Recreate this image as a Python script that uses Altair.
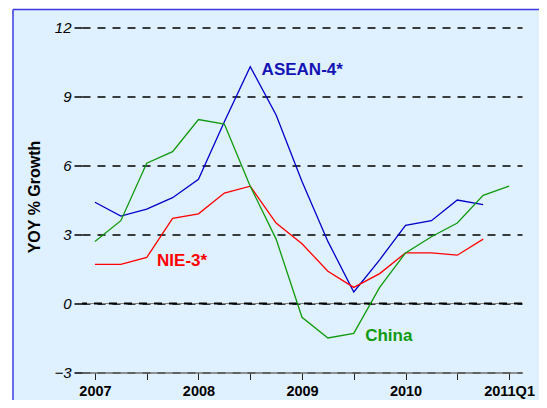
import altair as alt
import pandas as pd

# ---- data ----
quarters = ["2007Q1", "2007Q2", "2007Q3", "2007Q4",
            "2008Q1", "2008Q2", "2008Q3", "2008Q4",
            "2009Q1", "2009Q2", "2009Q3", "2009Q4",
            "2010Q1", "2010Q2", "2010Q3", "2010Q4", "2011Q1"]
asean4 = [4.4, 3.8, 4.1, 4.6, 5.4, 7.9, 10.3, 8.2, 5.3, 2.7, 0.5, 1.9, 3.4, 3.6, 4.5, 4.3]
nie3 = [1.7, 1.7, 2.0, 3.7, 3.9, 4.8, 5.1, 3.5, 2.6, 1.4, 0.7, 1.3, 2.2, 2.2, 2.1, 2.8]
china = [2.7, 3.6, 6.1, 6.6, 8.0, 7.8, 5.1, 2.8, -0.6, -1.5, -1.3, 0.7, 2.2, 2.9, 3.5, 4.7, 5.1]

series_names = ["ASEAN-4*", "NIE-3*", "China"]
series_colors = ["#0000CC", "#FF0000", "#109A10"]
label_colors = ["#1414B4", "#FF0000", "#109A10"]
label_x = [2008.61, 2007.60, 2009.61]   # label anchor (time units)
label_y = [10.15, 1.83, -1.43]          # label anchor (% growth)

y_ticks = [-3, 0, 3, 6, 9, 12]


def qnum(q):
    return int(q[:4]) + (int(q[-1]) - 1) / 4.0


rows = []
for name, vals in zip(series_names, [asean4, nie3, china]):
    for q, v in zip(quarters, vals):
        rows.append({"series": name, "t": qnum(q), "value": v})
df = pd.DataFrame(rows)

labels_df = pd.DataFrame({"series": series_names, "t": label_x, "value": label_y})

W, H = 440, 345
BG = "#DFF0FE"
BORDER = "#3A3ADF"
FONT = "Liberation Sans"

x_scale = alt.Scale(domain=[2006.875, 2011.125], nice=False, zero=False)
y_scale = alt.Scale(domain=[-3, 12], nice=False, zero=False)

tick_vals = [qnum(q) for q in quarters]

x_axis = alt.Axis(
    values=tick_vals,
    labelExpr="datum.value == 2011 ? '2011Q1' : (datum.value % 1 == 0 ? format(datum.value, 'd') : '')",
    grid=False, title=None,
    domainColor="#707070", domainWidth=1.5,
    tickColor="#222222", tickSize=7, tickWidth=1,
    labelFont=FONT, labelFontSize=14.5, labelFontWeight="bold", labelColor="black",
    labelBaseline="alphabetic", labelPadding=16, labelOverlap=False, labelFlush=False,
)
y_axis = alt.Axis(
    values=y_ticks, domain=False,
    grid=True, gridColor="black", gridDash=[8, 7], gridWidth=1.5,
    tickColor="black", tickSize=8, tickWidth=1.5,
    labelFont=FONT, labelFontSize=15, labelFontStyle="italic", labelColor="black",
    labelPadding=3,
    title="YOY % Growth", titleFont=FONT, titleFontSize=16, titleFontWeight="bold",
    titleColor="black", titleAngle=270, titleX=-47.5, titleY=169, titleAlign="center",
    titleBaseline="middle",
)

color = alt.Color("series:N", scale=alt.Scale(domain=series_names, range=series_colors), legend=None)

one = alt.Data(values=[{}])

white_left = alt.Chart(one).mark_rect(fill="white").encode(
    x=alt.value(-80), x2=alt.value(-69), y=alt.value(-40), y2=alt.value(520))
white_top = alt.Chart(one).mark_rect(fill="white").encode(
    x=alt.value(-80), x2=alt.value(620), y=alt.value(-40), y2=alt.value(-18))
border_left = alt.Chart(one).mark_rule(color=BORDER, strokeWidth=1.5).encode(
    x=alt.value(-69), y=alt.value(-18), y2=alt.value(520))
border_top = alt.Chart(one).mark_rule(color=BORDER, strokeWidth=1.5).encode(
    x=alt.value(-69), x2=alt.value(620), y=alt.value(-18))

zero_df = pd.DataFrame({"v": [0]})
zero_solid = alt.Chart(zero_df).mark_rule(color="#808080", strokeWidth=1).encode(
    y=alt.Y("v:Q", scale=y_scale))
zero_dash = alt.Chart(zero_df).mark_rule(color="black", strokeWidth=2, strokeDash=[8, 7]).encode(
    y=alt.Y("v:Q", scale=y_scale))

lines = alt.Chart(df).mark_line(strokeWidth=1.3).encode(
    x=alt.X("t:Q", scale=x_scale, axis=x_axis),
    y=alt.Y("value:Q", scale=y_scale, axis=y_axis),
    color=color,
    detail="series:N",
)

texts = alt.Chart(labels_df).mark_text(
    align="left", baseline="middle", font=FONT, fontSize=17, fontWeight="bold"
).encode(
    x=alt.X("t:Q", scale=x_scale),
    y=alt.Y("value:Q", scale=y_scale),
    color=alt.Color("series:N", scale=alt.Scale(domain=series_names, range=label_colors), legend=None),
    text="series:N",
)

chart = alt.layer(
    white_left, white_top, border_left, border_top,
    zero_solid, zero_dash, lines, texts
).resolve_scale(color="independent").properties(
    width=W, height=H,
    padding={"left": 74, "top": 19.5, "right": 17, "bottom": 27.5},
    autosize=alt.AutoSizeParams(type="none"),
    background=BG,
).configure_view(stroke=None)

chart.save("out.html", embed_options={"renderer": "svg", "actions": False})
